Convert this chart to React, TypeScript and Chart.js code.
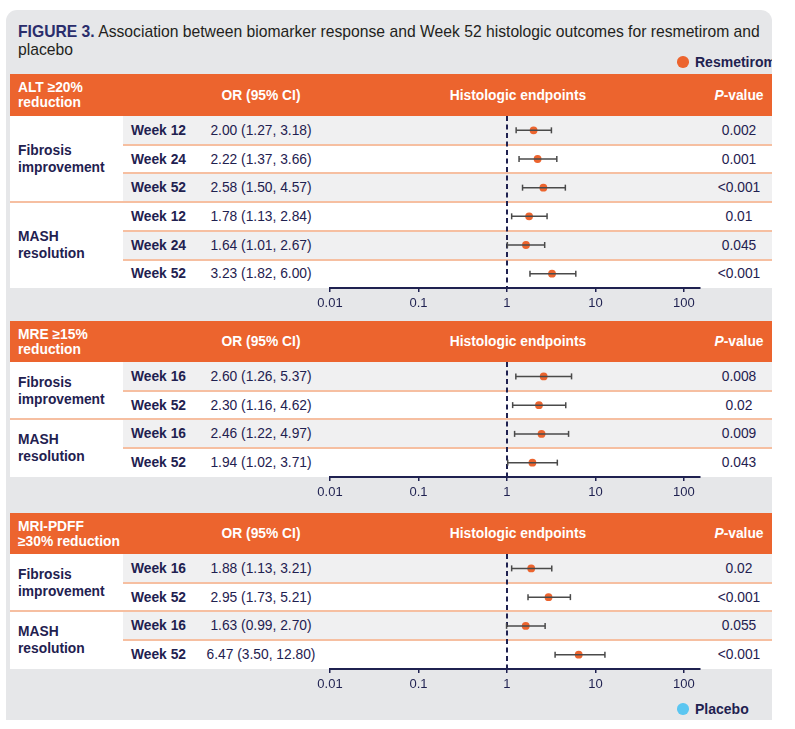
import React, { useEffect, useRef } from "react";
import { Chart, registerables } from "chart.js";
Chart.register(...registerables);

// ---------------- data ----------------
const sectionTitles = ["ALT ≥20%\nreduction", "MRE ≥15%\nreduction", "MRI-PDFF\n≥30% reduction"];
const groupLabels = ["Fibrosis\nimprovement", "MASH\nresolution"];

const weeks1 = ["Week 12", "Week 24", "Week 52", "Week 12", "Week 24", "Week 52"];
const or1 = [2.0, 2.22, 2.58, 1.78, 1.64, 3.23];
const lo1 = [1.27, 1.37, 1.5, 1.13, 1.01, 1.82];
const hi1 = [3.18, 3.66, 4.57, 2.84, 2.67, 6.0];
const p1 = ["0.002", "0.001", "<0.001", "0.01", "0.045", "<0.001"];
const groups1 = [3, 3];

const weeks2 = ["Week 16", "Week 52", "Week 16", "Week 52"];
const or2 = [2.6, 2.3, 2.46, 1.94];
const lo2 = [1.26, 1.16, 1.22, 1.02];
const hi2 = [5.37, 4.62, 4.97, 3.71];
const p2 = ["0.008", "0.02", "0.009", "0.043"];
const groups2 = [2, 2];

const weeks3 = ["Week 16", "Week 52", "Week 16", "Week 52"];
const or3 = [1.88, 2.95, 1.63, 6.47];
const lo3 = [1.13, 1.73, 0.99, 3.5];
const hi3 = [3.21, 5.21, 2.7, 12.8];
const p3 = ["0.02", "<0.001", "0.055", "<0.001"];
const groups3 = [2, 2];

const tickValues = [0.01, 0.1, 1, 10, 100];
const tickLabels = ["0.01", "0.1", "1", "10", "100"];
const axisMin = 0.01;
const axisMax = 152;
const refValue = 1;
const legendLabels = ["Resmetirom", "Placebo"];

// ---------------- style / layout ----------------
const FONT = '"Liberation Sans", Arial, Helvetica, sans-serif';
const NAVY = "#1f2150";
const TITLE_NAVY = "#2a2d6c";
const ORANGE = "#ec642e";
const PLACEBO = "#5bc6f1";
const PANEL = "#e6e7e9";
const ROW_GRAY = "#f0f0f1";
const SEP = "#f6bfa1";
const BAR = "#4a4a4a";

const TABLE_L = 10;
const TABLE_R = 772;
const COL1_R = 123;
const ROW_H = 28.72;
const AX_L = 330;
const AX_R = 700;
const PAD = 20;
const AXIS_H = 30;
const FS = 13.8;

const sections = [
  { title: sectionTitles[0], weeks: weeks1, or: or1, lo: lo1, hi: hi1, p: p1, groups: groups1, headerTop: 74, rowsTop: 116 },
  { title: sectionTitles[1], weeks: weeks2, or: or2, lo: lo2, hi: hi2, p: p2, groups: groups2, headerTop: 321, rowsTop: 362 },
  { title: sectionTitles[2], weeks: weeks3, or: or3, lo: lo3, hi: hi3, p: p3, groups: groups3, headerTop: 513, rowsTop: 554 },
];

const refLinePlugin = {
  id: "refLine",
  beforeDatasetsDraw(chart: any) {
    const { ctx, chartArea, scales } = chart;
    const x = Math.round(scales.x.getPixelForValue(refValue));
    ctx.save();
    ctx.strokeStyle = NAVY;
    ctx.lineWidth = 2;
    ctx.setLineDash([5, 3.5]);
    ctx.beginPath();
    ctx.moveTo(x, chartArea.top);
    ctx.lineTo(x, chartArea.bottom);
    ctx.stroke();
    ctx.restore();
  },
};

function Forest({ or, lo, hi, top }: { or: number[]; lo: number[]; hi: number[]; top: number }) {
  const ref = useRef<HTMLCanvasElement>(null);
  const n = or.length;
  const plotH = Math.round(n * ROW_H);
  const W = AX_R - AX_L + 2 * PAD;
  const H = plotH + AXIS_H;
  useEffect(() => {
    const datasets: any[] = [];
    for (let i = 0; i < n; i++) {
      datasets.push({
        data: [
          { x: lo[i], y: i },
          { x: hi[i], y: i },
        ],
        showLine: true,
        borderColor: BAR,
        borderWidth: 1.5,
        pointStyle: "line",
        rotation: 90,
        pointRadius: 3,
        pointBorderColor: BAR,
        pointBorderWidth: 1.5,
      });
    }
    datasets.push({
      data: or.map((v, i) => ({ x: v, y: i })),
      showLine: false,
      backgroundColor: ORANGE,
      borderColor: ORANGE,
      pointRadius: 3.9,
      pointBorderWidth: 0,
    });
    const chart = new Chart(ref.current as HTMLCanvasElement, {
      type: "scatter",
      data: { datasets },
      options: {
        animation: false,
        responsive: false,
        events: [],
        layout: { autoPadding: false, padding: { left: PAD, right: PAD, top: 0, bottom: 0 } },
        plugins: { legend: { display: false }, tooltip: { enabled: false } },
        scales: {
          x: {
            type: "logarithmic",
            min: axisMin,
            max: axisMax,
            afterBuildTicks: (s: any) => {
              s.ticks = tickValues.map((v) => ({ value: v }));
            },
            afterFit: (s: any) => {
              s.height = AXIS_H;
            },
            ticks: {
              autoSkip: false,
              maxRotation: 0,
              padding: 4,
              color: NAVY,
              font: { family: FONT, size: 13 },
              callback: (_v: any, i: number) => tickLabels[i],
            },
            grid: {
              display: true,
              drawOnChartArea: false,
              drawTicks: true,
              tickLength: 4,
              color: NAVY,
              lineWidth: 1.5,
            },
            border: { display: true, color: NAVY, width: 2 },
          },
          y: { type: "linear", min: -0.5, max: n - 0.5, reverse: true, display: false },
        },
      } as any,
      plugins: [refLinePlugin],
    });
    return () => chart.destroy();
  }, []);
  return (
    <canvas
      ref={ref}
      width={W}
      height={H}
      style={{ position: "absolute", left: AX_L - PAD, top, width: W, height: H }}
    />
  );
}

const abs = (o: any) => ({ position: "absolute" as const, ...o });

function Section({ s }: { s: any }) {
  const n = s.or.length;
  const hH = s.rowsTop - s.headerTop;
  const els: any[] = [];
  // header
  els.push(<div key="h" style={abs({ left: TABLE_L, top: s.headerTop, width: TABLE_R - TABLE_L, height: hH, background: ORANGE })} />);
  const hText = { color: "#fff", fontWeight: 700, fontSize: FS, fontFamily: FONT, display: "flex", alignItems: "center", height: hH, top: s.headerTop };
  els.push(
    <div key="ht" style={abs({ ...hText, left: 18, lineHeight: "15px", whiteSpace: "pre-line" })}>
      {s.title}
    </div>
  );
  els.push(<div key="h1" style={abs({ ...hText, left: 161, width: 200, justifyContent: "center" })}>OR (95% CI)</div>);
  els.push(<div key="h2" style={abs({ ...hText, left: 418, width: 200, justifyContent: "center" })}>Histologic endpoints</div>);
  els.push(
    <div key="h3" style={abs({ ...hText, left: 689, width: 100, justifyContent: "center" })}>
      <span><i>P</i>-value</span>
    </div>
  );
  // left white column
  els.push(<div key="lc" style={abs({ left: TABLE_L, top: s.rowsTop, width: COL1_R - TABLE_L, height: n * ROW_H, background: "#fff" })} />);
  // rows
  for (let i = 0; i < n; i++) {
    const y = s.rowsTop + i * ROW_H;
    els.push(<div key={"r" + i} style={abs({ left: COL1_R, top: y, width: TABLE_R - COL1_R, height: ROW_H, background: i % 2 === 0 ? ROW_GRAY : "#fff" })} />);
  }
  // separators
  const boundaries = new Set<number>();
  let acc = 0;
  s.groups.forEach((g: number) => {
    acc += g;
    boundaries.add(acc);
  });
  for (let i = 1; i < n; i++) {
    const y = s.rowsTop + i * ROW_H;
    const left = boundaries.has(i) ? TABLE_L : COL1_R;
    els.push(<div key={"s" + i} style={abs({ left, top: y - 1, width: TABLE_R - left, height: 2, background: SEP })} />);
  }
  // group labels
  let start = 0;
  s.groups.forEach((g: number, gi: number) => {
    els.push(
      <div
        key={"g" + gi}
        style={abs({
          left: 18,
          top: s.rowsTop + start * ROW_H,
          height: g * ROW_H,
          display: "flex",
          alignItems: "center",
          whiteSpace: "pre-line",
          lineHeight: "17px",
          fontWeight: 700,
          fontSize: FS,
          fontFamily: FONT,
          color: NAVY,
        })}
      >
        {groupLabels[gi]}
      </div>
    );
    start += g;
  });
  // row texts
  for (let i = 0; i < n; i++) {
    const y = s.rowsTop + i * ROW_H;
    const t = { top: y, height: ROW_H, display: "flex", alignItems: "center", fontSize: FS, fontFamily: FONT, color: NAVY, whiteSpace: "nowrap" };
    els.push(<div key={"w" + i} style={abs({ ...t, left: 131, fontWeight: 700 })}>{s.weeks[i]}</div>);
    els.push(
      <div key={"o" + i} style={abs({ ...t, left: 161, width: 200, justifyContent: "center" })}>
        {`${s.or[i].toFixed(2)} (${s.lo[i].toFixed(2)}, ${s.hi[i].toFixed(2)})`}
      </div>
    );
    els.push(<div key={"p" + i} style={abs({ ...t, left: 689, width: 100, justifyContent: "center" })}>{s.p[i]}</div>);
  }
  return (
    <>
      {els}
      <Forest or={s.or} lo={s.lo} hi={s.hi} top={s.rowsTop} />
    </>
  );
}

function Legend({ color, label, cy }: { color: string; label: string; cy: number }) {
  return (
    <div style={abs({ left: 676, top: cy - 10, width: TABLE_R - 676, height: 20, overflow: "hidden" })}>
      <div style={abs({ left: 1.25, top: 4.25, width: 11.5, height: 11.5, borderRadius: "50%", background: color })} />
      <div
        style={abs({
          left: 19,
          top: 0,
          height: 20,
          lineHeight: "20px",
          whiteSpace: "nowrap",
          fontWeight: 700,
          fontSize: 14,
          fontFamily: FONT,
          color: NAVY,
        })}
      >
        {label}
      </div>
    </div>
  );
}

export default function App() {
  return (
    <div style={abs({ left: 0, top: 0, width: 795, height: 729, background: "#fff", overflow: "hidden" })}>
      <div style={abs({ left: 6, top: 10, width: 766, height: 710, background: PANEL, borderRadius: "11px 11px 0 0" })} />
      <div
        style={abs({
          left: 18,
          top: 23.2,
          width: 760,
          fontFamily: FONT,
          fontSize: 15.7,
          lineHeight: "18px",
          color: "#231f20",
          whiteSpace: "nowrap",
        })}
      >
        <span style={{ fontWeight: 700, color: TITLE_NAVY }}>FIGURE 3.</span> Association between biomarker response and Week 52
        histologic outcomes for resmetirom and
        <br />
        placebo
      </div>
      <Legend color={ORANGE} label={legendLabels[0]} cy={62} />
      {sections.map((s, i) => (
        <Section key={i} s={s} />
      ))}
      <Legend color={PLACEBO} label={legendLabels[1]} cy={709} />
    </div>
  );
}
